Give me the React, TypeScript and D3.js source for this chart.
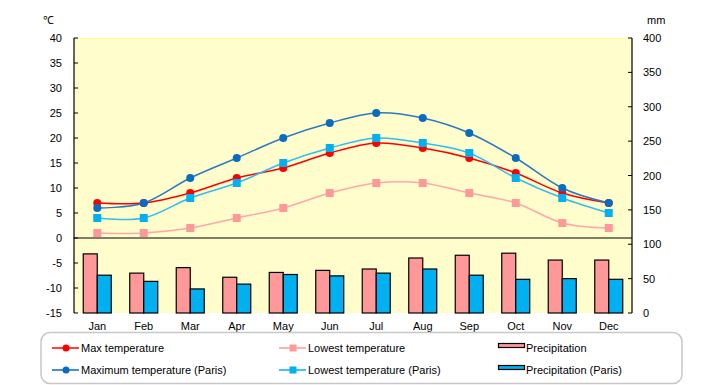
import React from "react";
import * as d3 from "d3";

const months = ["Jan", "Feb", "Mar", "Apr", "May", "Jun", "Jul", "Aug", "Sep", "Oct", "Nov", "Dec"];
const maxTemp = [7, 7, 9, 12, 14, 17, 19, 18, 16, 13, 9, 7];
const lowTemp = [1, 1, 2, 4, 6, 9, 11, 11, 9, 7, 3, 2];
const maxTempParis = [6, 7, 12, 16, 20, 23, 25, 24, 21, 16, 10, 7];
const lowTempParis = [4, 4, 8, 11, 15, 18, 20, 19, 17, 12, 8, 5];
const precip = [86, 58, 66, 52, 59, 62, 64, 80, 84, 87, 77, 77];
const precipParis = [55, 46, 35, 42, 56, 54, 58, 64, 55, 49, 50, 49];
const tempTicks = [40, 35, 30, 25, 20, 15, 10, 5, 0, -5, -10, -15];
const precipTicks = [400, 350, 300, 250, 200, 150, 100, 50, 0];

const W = 720, H = 385;
const L = 74, R = 632, T = 38, B = 313;
const FONT = "'Liberation Sans', Arial, sans-serif";

export default function App() {
  const x = d3.scaleBand<string>().domain(months).range([L, R]);
  const yT = d3.scaleLinear().domain([-15, 40]).range([B, T]);
  const yP = d3.scaleLinear().domain([0, 400]).range([B, T]);
  const cx = (i: number) => (x(months[i]) as number) + x.bandwidth() / 2;
  const line = d3
    .line<number>()
    .x((_, i) => cx(i))
    .y((d) => yT(d))
    .curve(d3.curveCardinal.tension(0));
  const bw = 14;

  const series = [
    { data: maxTemp, line: "#FF0000", fill: "#FF0000", shape: "circle" },
    { data: lowTemp, line: "#FFA8A8", fill: "#FF9999", shape: "square" },
    { data: maxTempParis, line: "#2A7AC0", fill: "#0A6CC0", shape: "circle" },
    { data: lowTempParis, line: "#30BEF0", fill: "#00B0F0", shape: "square" },
  ];

  const marker = (shape: string, fill: string, px: number, py: number, key: any) =>
    shape === "circle" ? (
      <circle key={key} cx={px} cy={py} r={4} fill={fill} />
    ) : (
      <rect key={key} x={px - 4} y={py - 4} width={8} height={8} fill={fill} />
    );

  const legendLines = [
    { label: "Max temperature", x: 52, y: 348, s: series[0] },
    { label: "Maximum temperature (Paris)", x: 52, y: 370, s: series[2] },
    { label: "Lowest temperature", x: 279, y: 348, s: series[1] },
    { label: "Lowest temperature (Paris)", x: 279, y: 370, s: series[3] },
  ];
  const legendBars = [
    { label: "Precipitation", y: 348, fill: "#FF9999" },
    { label: "Precipitation (Paris)", y: 370, fill: "#00B0F0" },
  ];

  return (
    <svg width={W} height={H} style={{ position: "absolute", left: 0, top: 0, background: "#fff" }} fontFamily={FONT}>
      <rect x={L} y={T} width={R - L} height={B - T} fill="#FFFDCC" />
      <line x1={L} x2={R} y1={T + 0.5} y2={T + 0.5} stroke="#FFFF99" />
      {/* bars */}
      {months.map((m, i) => (
        <g key={m}>
          <rect x={cx(i) - bw} y={yP(precip[i])} width={bw} height={B - yP(precip[i])} fill="#FF9999" stroke="#000" strokeWidth={1.2} />
          <rect x={cx(i)} y={yP(precipParis[i])} width={bw} height={B - yP(precipParis[i])} fill="#00B0F0" stroke="#000" strokeWidth={1.2} />
        </g>
      ))}
      {/* zero line */}
      <line x1={L} x2={R} y1={yT(0)} y2={yT(0)} stroke="#000" strokeWidth={1.2} />
      {/* lines */}
      {series.map((s, k) => (
        <g key={k}>
          <path d={line(s.data) as string} fill="none" stroke={s.line} strokeWidth={1.5} />
          {s.data.map((d, i) => marker(s.shape, s.fill, cx(i), yT(d), i))}
        </g>
      ))}
      {/* left axis */}
      <line x1={L} x2={L} y1={T} y2={B} stroke="#000" strokeWidth={1.2} />
      {tempTicks.map((t) => (
        <g key={t}>
          <line x1={L} x2={L + 4} y1={yT(t)} y2={yT(t)} stroke="#000" />
          <text x={62} y={yT(t) + 4} fontSize={11} textAnchor="end">
            {t}
          </text>
        </g>
      ))}
      {/* right axis */}
      <line x1={R} x2={R} y1={T} y2={B} stroke="#000" strokeWidth={1.2} />
      {precipTicks.map((t) => (
        <g key={t}>
          <line x1={R - 4} x2={R} y1={yP(t)} y2={yP(t)} stroke="#000" />
          <text x={643} y={yP(t) + 4} fontSize={11} textAnchor="start">
            {t}
          </text>
        </g>
      ))}
      <text x={43} y={24} fontSize={11}>℃</text>
      <text x={647} y={24} fontSize={11}>mm</text>
      {/* month labels */}
      {months.map((m, i) => (
        <text key={m} x={cx(i)} y={330} fontSize={11} textAnchor="middle">
          {m}
        </text>
      ))}
      {/* legend */}
      <rect x={41} y={332.5} width={641} height={51} rx={9} fill="#fff" stroke="#C8C8C8" strokeWidth={1.5} />
      {legendLines.map((l) => (
        <g key={l.label}>
          <line x1={l.x} x2={l.x + 27} y1={l.y} y2={l.y} stroke={l.s.fill} strokeWidth={1.5} />
          {l.s.shape === "circle" ? (
            <circle cx={l.x + 14} cy={l.y} r={3.5} fill={l.s.fill} />
          ) : (
            <rect x={l.x + 10.5} y={l.y - 3.5} width={7} height={7} fill={l.s.fill} />
          )}
          <text x={l.x + 29} y={l.y + 4} fontSize={11}>
            {l.label}
          </text>
        </g>
      ))}
      {legendBars.map((l) => (
        <g key={l.label}>
          <rect x={498.5} y={l.y - 4.5} width={26} height={4} fill={l.fill} stroke="#000" strokeWidth={1.2} />
          <text x={526} y={l.y + 4} fontSize={11}>
            {l.label}
          </text>
        </g>
      ))}
    </svg>
  );
}
